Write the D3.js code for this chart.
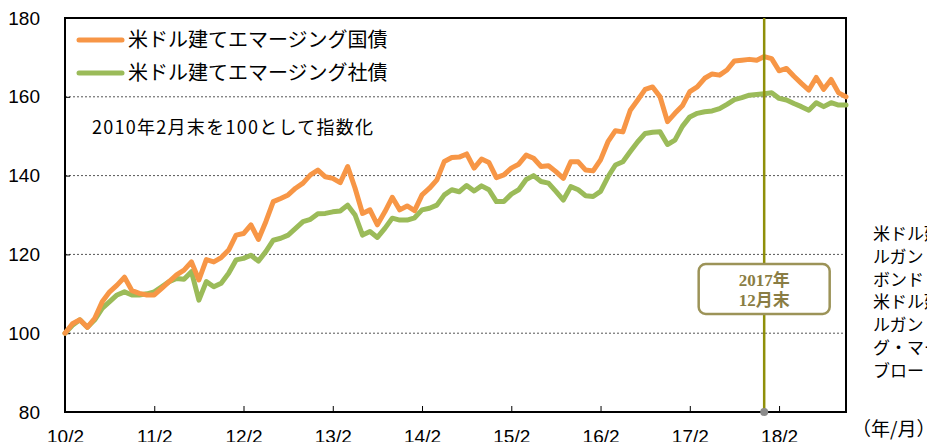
<!DOCTYPE html>
<html lang="ja">
<head>
<meta charset="UTF-8">
<title>米ドル建てエマージング債券</title>
<script src="https://d3js.org/d3.v7.min.js"></script>
<style>
    html, body {
        margin: 0;
        padding: 0;
        background: #fff;
        overflow: hidden;
    }
    svg text {
        font-family: "Liberation Sans", Arial, "Noto Sans CJK JP", sans-serif;
        fill: #000;
    }
    .jp { font-family: "Noto Sans CJK JP", sans-serif; }
    .serif { font-family: "Liberation Serif", "DejaVu Serif", "Noto Sans CJK JP", serif; }
</style>
</head>
<body>
<div id="chart"></div>
<script>
// monthly index, 2010/2 = 100, through 2018/11
const govBonds = [
    100, 102.4, 103.4, 101.5, 103.8, 108, 110.5, 112.2, 114.2, 110.8,
    110.1, 109.7, 109.7, 111.4, 113.1, 114.8, 116, 118.1, 113.5, 118.7,
    118.1, 119.2, 121.1, 124.9, 125.3, 127.5, 123.8, 128.3, 133.4, 134.2,
    135.1, 136.8, 138.1, 140.2, 141.4, 139.7, 139.3, 138.2, 142.3, 136.8,
    130.4, 131.3, 127.5, 130.8, 134.5, 131.3, 132.3, 131.1, 135.1, 136.8,
    138.9, 143.6, 144.6, 144.7, 145.5, 141.9, 144.2, 143.3, 139.5, 140.2,
    141.9, 142.9, 145.2, 144.4, 142.3, 142.5, 141, 139.3, 143.5, 143.5,
    141.4, 141.2, 144, 148.6, 151.4, 151.1, 156.6, 159.2, 161.9, 162.5,
    160, 153.7, 155.8, 157.7, 161.3, 162.5, 164.7, 165.8, 165.5, 166.8,
    169.1, 169.3, 169.5, 169.3, 170.2, 169.7, 166.6, 167.2, 165.2, 163.4,
    161.7, 164.9, 161.9, 164.4, 161, 160
];

const corpBonds = [
    100, 102, 103.4, 101.5, 103.4, 106.3, 108, 109.7, 110.5, 109.7,
    109.7, 110, 110.5, 111.8, 113.1, 113.9, 113.7, 115.6, 108.4, 113.1,
    111.8, 112.7, 115.2, 118.6, 119, 119.8, 118.3, 120.7, 123.6, 124.1,
    124.9, 126.6, 128.3, 128.9, 130.3, 130.4, 130.8, 131, 132.5, 130,
    124.9, 125.8, 124.3, 126.6, 129.2, 128.7, 128.7, 129.3, 131.3, 131.7,
    132.5, 135.1, 136.4, 135.9, 137.5, 136.1, 137.4, 136.4, 133.4, 133.4,
    135.3, 136.4, 139, 140, 138.5, 138.1, 136, 133.8, 137.2, 136.4,
    134.9, 134.7, 136, 139.7, 142.7, 143.5, 146.1, 148.6, 150.7, 151,
    151.1, 147.9, 149, 152.5, 154.9, 155.8, 156.2, 156.4, 157, 158.1,
    159.3, 159.8, 160.4, 160.6, 160.8, 161, 159.6, 159.2, 158.3, 157.5,
    156.6, 158.5, 157.5, 158.5, 157.9, 157.9
];

const seriesNames = ["米ドル建てエマージング国債", "米ドル建てエマージング社債"];
const seriesColors = ["#f79646", "#9bbb59"];

const xTickLabels = ["10/2", "11/2", "12/2", "13/2", "14/2", "15/2", "16/2", "17/2", "18/2"];
const yTicks = [80, 100, 120, 140, 160, 180];
const markerMonth = 94;   // 2017/12
const markerLabel = ["2017年", "12月末"];

const noteLines = [
    "米ドル建てエマージング国債：JPモ",
    "ルガン・エマージング・マーケット・",
    "ボンド・インデックス・グローバル",
    "米ドル建てエマージング社債：JPモ",
    "ルガン・コーポレート・エマージン",
    "グ・マーケッツ・ボンド・インデックス",
    "ブロード・ダイバーシファイド"
];

const W = 927, H = 442;
const plotL = 65, plotR = 846, plotT = 18, plotB = 412;

const svg = d3.select("#chart").append("svg")
    .attr("width", W)
    .attr("height", H);

const x = d3.scaleLinear().domain([0, govBonds.length - 1]).range([plotL, plotR]);
const y = d3.scaleLinear().domain([80, 180]).range([plotB, plotT]);

// grid lines
svg.append("g")
    .selectAll("line")
    .data(yTicks.filter(d => d > 80 && d < 180))
    .enter().append("line")
    .attr("x1", plotL).attr("x2", plotR)
    .attr("y1", d => y(d)).attr("y2", d => y(d))
    .attr("stroke", "#555")
    .attr("stroke-width", 1)
    .attr("stroke-dasharray", "2,2");

// y axis labels + inner ticks
const yAxis = d3.axisLeft(y).tickValues(yTicks).tickSize(-5).tickPadding(25);
svg.append("g")
    .attr("transform", `translate(${plotL},0)`)
    .call(yAxis)
    .call(g => g.select(".domain").remove())
    .call(g => g.selectAll("line").attr("stroke", "#000"))
    .call(g => g.selectAll("text").attr("font-size", 19)
        .attr("font-family", "'Liberation Sans', Arial, sans-serif").attr("fill", "#000"));

// x axis (labels sit low, partly cut by the page edge as in the source)
const xTickVals = xTickLabels.map((d, i) => i * 12);
const xAxis = d3.axisBottom(x).tickValues(xTickVals)
    .tickFormat((d, i) => xTickLabels[i]).tickSize(-6).tickPadding(0);
svg.append("g")
    .attr("transform", `translate(0,${plotB})`)
    .call(xAxis)
    .call(g => g.select(".domain").remove())
    .call(g => g.selectAll("line").attr("stroke", "#000"))
    .call(g => g.selectAll("text").attr("font-size", 19)
        .attr("dy", null).attr("y", 31)
        .attr("font-family", "'Liberation Sans', Arial, sans-serif").attr("fill", "#000"));

// frame
svg.append("rect")
    .attr("x", plotL).attr("y", plotT)
    .attr("width", plotR - plotL).attr("height", plotB - plotT)
    .attr("fill", "none")
    .attr("stroke", "#000")
    .attr("stroke-width", 2);

// series
const line = d3.line()
    .x((d, i) => x(i))
    .y(d => y(d));

[corpBonds, govBonds].forEach((s, k) => {
    svg.append("path")
        .datum(s)
        .attr("fill", "none")
        .attr("stroke", seriesColors[1 - k])
        .attr("stroke-width", 5)
        .attr("stroke-linejoin", "round")
        .attr("stroke-linecap", "round")
        .attr("d", line);
});

// marker line at 2017/12
svg.append("line")
    .attr("x1", x(markerMonth)).attr("x2", x(markerMonth))
    .attr("y1", plotT).attr("y2", plotB)
    .attr("stroke", "#8f8f0a")
    .attr("stroke-width", 2.5);

svg.append("circle")
    .attr("cx", x(markerMonth)).attr("cy", plotB)
    .attr("r", 4)
    .attr("fill", "#8c8c8c");

const boxW = 131, boxH = 50, boxTop = 264;
svg.append("rect")
    .attr("x", x(markerMonth) - boxW / 2).attr("y", boxTop)
    .attr("width", boxW).attr("height", boxH)
    .attr("rx", 7)
    .attr("fill", "#fff")
    .attr("stroke", "#9c9358")
    .attr("stroke-width", 2.5);

svg.append("g").selectAll("text")
    .data(markerLabel)
    .enter().append("text")
    .attr("class", "serif")
    .attr("x", x(markerMonth))
    .attr("y", (d, i) => boxTop + 22 + i * 20)
    .attr("text-anchor", "middle")
    .attr("font-size", 17)
    .attr("font-weight", "bold")
    .style("fill", "#8a7d44")
    .text(d => d);

// legend
seriesNames.forEach((name, i) => {
    const ly = 40 + i * 33;
    svg.append("line")
        .attr("x1", 79).attr("x2", 122)
        .attr("y1", ly).attr("y2", ly)
        .attr("stroke", seriesColors[i])
        .attr("stroke-width", 5)
        .attr("stroke-linecap", "round");
    svg.append("text")
        .attr("class", "jp")
        .attr("x", 128).attr("y", ly + 7)
        .attr("font-size", 20)
        .text(name);
});

svg.append("text")
    .attr("class", "jp")
    .attr("x", 92).attr("y", 134)
    .attr("font-size", 18)
    .attr("textLength", 281)
    .attr("lengthAdjust", "spacing")
    .text("2010年2月末を100として指数化");

// unit label
svg.append("text")
    .attr("class", "jp")
    .attr("x", 852).attr("y", 436)
    .attr("font-size", 19)
    .text("（年/月）");

// source notes (cut by the window edge)
svg.append("g").selectAll("text")
    .data(noteLines)
    .enter().append("text")
    .attr("class", "serif")
    .attr("x", 873)
    .attr("y", (d, i) => 240 + i * 22.8)
    .attr("font-size", 17)
    .text(d => d);
</script>
</body>
</html>
